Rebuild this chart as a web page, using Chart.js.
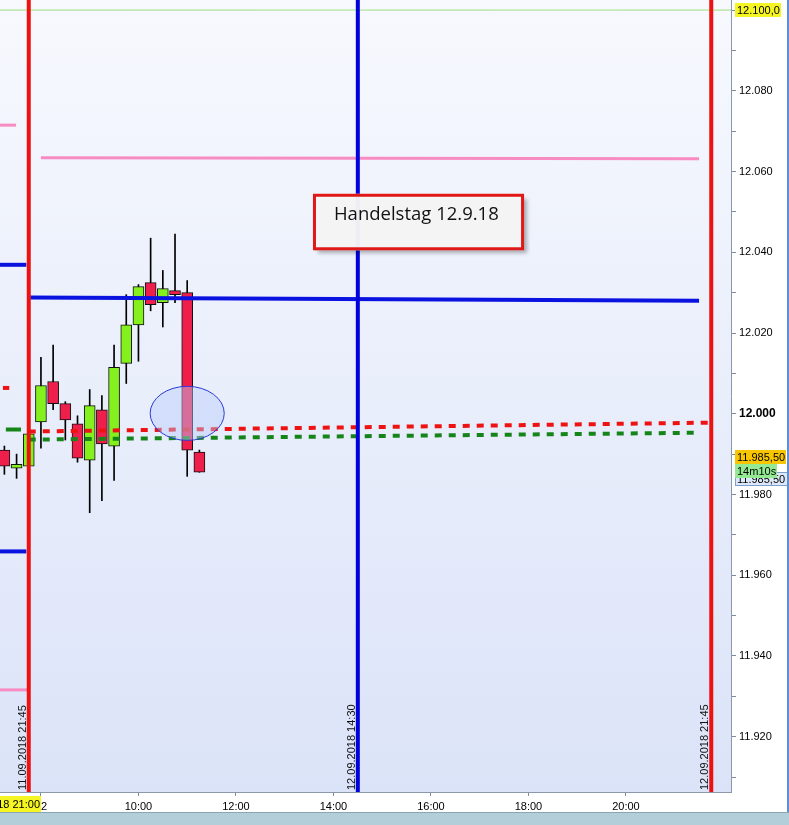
<!DOCTYPE html>
<html>
<head>
<meta charset="utf-8">
<script src="https://cdn.jsdelivr.net/npm/chart.js@4.4.1/dist/chart.umd.min.js"></script>
<style>
html, body { margin: 0; padding: 0; background: #fff; overflow: hidden; }
canvas { display: block; }
</style>
</head>
<body>
<canvas id="myChart" width="789" height="825"></canvas>
<script>
// 15-Minuten-Kerzen, Zeit in Stunden (vor 8:00 = Vortag 21:15 - 21:45)
const candleHours = [7.25, 7.5, 7.75, 8, 8.25, 8.5, 8.75, 9, 9.25, 9.5, 9.75, 10, 10.25, 10.5, 10.75, 11, 11.25];
const opens  = [11991, 11986.5, 11987, 11998, 12008, 12002.5, 11997.5, 11988.5, 12001, 11992, 12012.5, 12022, 12032.5, 12027.5, 12030.5, 12030, 11990.5];
const highs  = [11992, 11990, 11995.5, 12014, 12017, 12003, 11999.5, 12006, 12004.5, 12017, 12029.5, 12032, 12043.5, 12035.5, 12044.5, 12033, 11991];
const lows   = [11985, 11984, 11986.5, 11991.5, 12001, 11993.5, 11988, 11975.5, 11978.5, 11983.5, 12007.5, 12013, 12025.5, 12021.5, 12027.5, 11984.5, 11985.5];
const closes = [11987, 11987.5, 11995, 12007, 12002.5, 11998.5, 11989, 12002, 11992.5, 12011.5, 12022, 12031.5, 12027, 12031, 12029.5, 11991, 11985.5];

// Horizontale Linien: von/bis (Stunden), Kurs am Anfang/Ende
const levelFrom  = [7.16, 8.0, 7.16, 7.78, 7.16, 7.16, 7.22, 7.75, 7.28, 7.75, 7.16];
const levelTo    = [7.49, 21.5, 7.70, 21.5, 7.70, 7.72, 7.35, 21.75, 7.59, 21.5, 22.16];
const levelStart = [12071.5, 12063.4, 12036.9, 12028.8, 11965.9, 11931.6, 12006.4, 11995.6, 11996.1, 11993.6, 12100];
const levelEnd   = [12071.5, 12063.2, 12036.9, 12028.0, 11965.9, 11931.6, 12006.4, 11997.8, 11996.1, 11995.3, 12100];
const levelColors = ['#f78bc2', '#f78bc2', '#0a12e0', '#0a12e0', '#0a12e0', '#f78bc2', '#ee1212', '#ee1212', '#15851a', '#15851a', '#9be07a'];
const levelWidths = [3, 3, 4, 4, 4, 3, 4, 4, 4, 4, 1];
const levelDashed = [false, false, false, false, false, false, false, true, false, true, false];

// Senkrechte Linien
const vlineHours  = [7.75, 14.5, 21.75];
const vlineLabels = ['11.09.2018 21:45', '12.09.2018 14:30', '12.09.2018 21:45'];
const vlineColors = ['#ee1111', '#0000dd', '#ee1111'];

// Achsen
const timeTicks = [8, 10, 12, 14, 16, 18, 20];
const timeTickLabels = ['12', '10:00', '12:00', '14:00', '16:00', '18:00', '20:00'];
const timeMin = 7.16, timeMax = 22.155;
const priceMin = 11906.3, priceMax = 12102.5;
const priceTickStep = 10;

// Notiz und Markierung
const noteText = 'Handelstag 12.9.18';
const noteBox = [13.58, 17.91, 12054.5, 12040.5];   // von, bis, oben, unten
const ellipseCenter = [11.0, 12000.1];
const ellipseRadius = [0.76, 6.7];
const countdownText = '14m10s';
const topPriceTag = 12100;

const axisFont = '"Liberation Sans", Arial, sans-serif';

function fmtDe(v, dec) {
    const parts = v.toFixed(dec).split('.');
    const i = parts[0].replace(/\B(?=(\d{3})+(?!\d))/g, '.');
    return parts[1] ? i + ',' + parts[1] : i;
}

// Kerzen als schwebende Balken (Docht + Körper)
const wickData = candleHours.map((h, i) => ({ x: h, y: [lows[i], highs[i]] }));
const bodyData = candleHours.map((h, i) => ({ x: h, y: [opens[i], closes[i]] }));
const bodyColors = candleHours.map((h, i) => closes[i] >= opens[i] ? '#84f01e' : '#ef1f4c');

const datasets = [];
levelFrom.forEach((from, i) => {
    datasets.push({
        type: 'line',
        data: [{ x: from, y: levelStart[i] }, { x: levelTo[i], y: levelEnd[i] }],
        borderColor: levelColors[i],
        borderWidth: levelWidths[i],
        borderDash: levelDashed[i] ? [7, 7] : [],
        borderCapStyle: 'butt',
        pointRadius: 0,
        order: 1
    });
});
vlineHours.forEach((h, i) => {
    datasets.push({
        type: 'line',
        data: [{ x: h, y: priceMin }, { x: h, y: priceMax }],
        borderColor: vlineColors[i],
        borderWidth: 4,
        pointRadius: 0,
        order: 0
    });
});
datasets.push({
    type: 'bar',
    data: bodyData,
    backgroundColor: bodyColors,
    borderColor: '#111',
    borderWidth: 1,
    borderSkipped: false,
    barThickness: 11,
    grouped: false,
    order: 2
});
datasets.push({
    type: 'bar',
    data: wickData,
    backgroundColor: '#000',
    borderWidth: 0,
    barThickness: 1,
    grouped: false,
    order: 3
});

function drawTag(ctx, text, x, cy, w, fill, stroke) {
    ctx.fillStyle = fill;
    ctx.fillRect(x, Math.round(cy - 7), w, 14);
    if (stroke) {
        ctx.strokeStyle = stroke;
        ctx.lineWidth = 1;
        ctx.strokeRect(x + 0.5, Math.round(cy - 7) + 0.5, w - 1, 13);
    }
    ctx.fillStyle = '#000';
    ctx.font = '11px ' + axisFont;
    ctx.textAlign = 'left';
    ctx.textBaseline = 'middle';
    ctx.fillText(text, x + 2, cy + 0.5);
}

const decorPlugin = {
    id: 'decor',
    beforeDraw(chart) {
        const { ctx, chartArea: a } = chart;
        ctx.save();
        ctx.fillStyle = '#fff';
        ctx.fillRect(0, 0, chart.width, chart.height);
        const g = ctx.createLinearGradient(0, a.top, 0, a.bottom);
        g.addColorStop(0, '#f7f9fe');
        g.addColorStop(1, '#dbe3f8');
        ctx.fillStyle = g;
        ctx.fillRect(a.left, a.top, a.right - a.left, a.bottom - a.top);
        ctx.restore();
    },
    afterDatasetsDraw(chart) {
        const { ctx, chartArea: a, scales: { x, y } } = chart;
        ctx.save();
        // Ellipse
        const cx = x.getPixelForValue(ellipseCenter[0]);
        const cy = y.getPixelForValue(ellipseCenter[1]);
        const rx = x.getPixelForValue(ellipseCenter[0] + ellipseRadius[0]) - cx;
        const ry = cy - y.getPixelForValue(ellipseCenter[1] + ellipseRadius[1]);
        ctx.beginPath();
        ctx.ellipse(cx, cy, rx, ry, 0, 0, Math.PI * 2);
        ctx.fillStyle = 'rgba(185, 205, 250, 0.45)';
        ctx.fill();
        ctx.strokeStyle = '#2b3bd6';
        ctx.lineWidth = 1;
        ctx.stroke();

        // Notizbox
        const l = x.getPixelForValue(noteBox[0]);
        const r = x.getPixelForValue(noteBox[1]);
        const t = y.getPixelForValue(noteBox[2]);
        const b = y.getPixelForValue(noteBox[3]);
        ctx.save();
        ctx.shadowColor = 'rgba(0, 0, 0, 0.5)';
        ctx.shadowBlur = 4;
        ctx.shadowOffsetX = 3;
        ctx.shadowOffsetY = 3;
        ctx.fillStyle = 'rgba(120, 120, 120, 0.6)';
        ctx.fillRect(l + 2, t + 2, r - l - 2, b - t - 2);
        ctx.restore();
        ctx.fillStyle = 'rgba(255, 255, 255, 0.9)';
        ctx.fillRect(l, t, r - l, b - t);
        ctx.strokeStyle = '#e01818';
        ctx.lineWidth = 3;
        ctx.strokeRect(l + 1.5, t + 1.5, r - l - 3, b - t - 3);
        ctx.fillStyle = '#111';
        ctx.font = '18.5px "Open Sans", "Noto Sans", sans-serif';
        ctx.textAlign = 'left';
        ctx.textBaseline = 'alphabetic';
        ctx.fillText(noteText, l + 21, t + 26);

        // Beschriftung der senkrechten Linien
        ctx.font = '11px ' + axisFont;
        ctx.fillStyle = '#111';
        ctx.textBaseline = 'middle';
        vlineHours.forEach((h, i) => {
            const px = x.getPixelForValue(h);
            ctx.save();
            ctx.translate(px - 6, a.bottom - 2);
            ctx.rotate(-Math.PI / 2);
            ctx.fillText(vlineLabels[i], 0, 0);
            ctx.restore();
        });
        ctx.restore();
    },
    afterDraw(chart) {
        const { ctx, chartArea: a, scales: { x, y } } = chart;
        ctx.save();
        // Kursmarken rechts
        const ax = a.right + 4;
        drawTag(ctx, fmtDe(topPriceTag, 1), ax, y.getPixelForValue(topPriceTag), 46, '#f5f523');
        const last = closes[closes.length - 1];
        const yl = y.getPixelForValue(last);
        drawTag(ctx, fmtDe(last, 2), ax, yl + 7, 53, '#dde9fa', '#7c9fd0');
        drawTag(ctx, fmtDe(last, 2), ax, yl - 15, 51, '#f7c600');
        drawTag(ctx, countdownText, ax, yl - 1, 42, '#93ea93');

        // Zeitmarke unten links
        const by = a.bottom + 4;
        ctx.fillStyle = '#f5f523';
        ctx.fillRect(0, by, 41, 16);
        ctx.save();
        ctx.beginPath();
        ctx.rect(0, by, 41, 16);
        ctx.clip();
        ctx.fillStyle = '#000';
        ctx.font = '11px ' + axisFont;
        ctx.textAlign = 'right';
        ctx.textBaseline = 'middle';
        ctx.fillText('11.09.2018 21:00', 40, by + 8.5);
        ctx.restore();

        // Statusleiste und Fensterrand
        ctx.fillStyle = '#b3ced8';
        ctx.fillRect(0, chart.height - 13, chart.width, 13);
        ctx.fillStyle = '#8aa6b2';
        ctx.fillRect(0, chart.height - 13, chart.width, 1);
        ctx.fillStyle = '#5b8fd8';
        ctx.fillRect(chart.width - 2, 0, 2, chart.height - 13);
        ctx.restore();
    }
};

const ctx = document.getElementById('myChart').getContext('2d');
const chart = new Chart(ctx, {
    type: 'bar',
    data: { datasets: datasets },
    options: {
        responsive: false,
        animation: false,
        devicePixelRatio: 1,
        layout: { padding: { left: 0, right: 0, top: 0, bottom: 13 } },
        plugins: { legend: { display: false }, tooltip: { enabled: false } },
        scales: {
            x: {
                type: 'linear',
                min: timeMin,
                max: timeMax,
                offset: false,
                grid: { drawOnChartArea: false, offset: false, tickLength: 4, color: '#7d8c9c' },
                border: { color: '#8a98a8' },
                ticks: {
                    autoSkip: false,
                    maxRotation: 0,
                    padding: 4,
                    color: '#000',
                    font: { family: axisFont, size: 11 },
                    callback: (v) => {
                        const k = timeTicks.indexOf(v);
                        return k >= 0 ? timeTickLabels[k] : '';
                    }
                },
                afterBuildTicks: (s) => { s.ticks = timeTicks.map(v => ({ value: v })); },
                afterFit: (s) => { s.height = 20; s.paddingLeft = 0; s.paddingRight = 0; }
            },
            y: {
                type: 'linear',
                position: 'right',
                min: priceMin,
                max: priceMax,
                grid: { drawOnChartArea: false, tickLength: 5, color: '#7d8c9c' },
                border: { color: '#8a98a8' },
                ticks: {
                    autoSkip: false,
                    padding: 3,
                    color: '#000',
                    font: (c) => (c.tick && c.tick.value === 12000)
                        ? { family: axisFont, size: 12, weight: 'bold' }
                        : { family: axisFont, size: 11 },
                    callback: (v) => (v % 20 === 0 && v !== topPriceTag) ? fmtDe(v, 0) : ''
                },
                afterBuildTicks: (s) => {
                    const t = [];
                    for (let v = Math.ceil(priceMin / priceTickStep) * priceTickStep; v <= priceMax; v += priceTickStep) {
                        t.push({ value: v });
                    }
                    s.ticks = t;
                },
                afterFit: (s) => { s.width = 58; s.paddingTop = 0; s.paddingBottom = 0; }
            }
        }
    },
    plugins: [decorPlugin]
});
</script>
</body>
</html>
